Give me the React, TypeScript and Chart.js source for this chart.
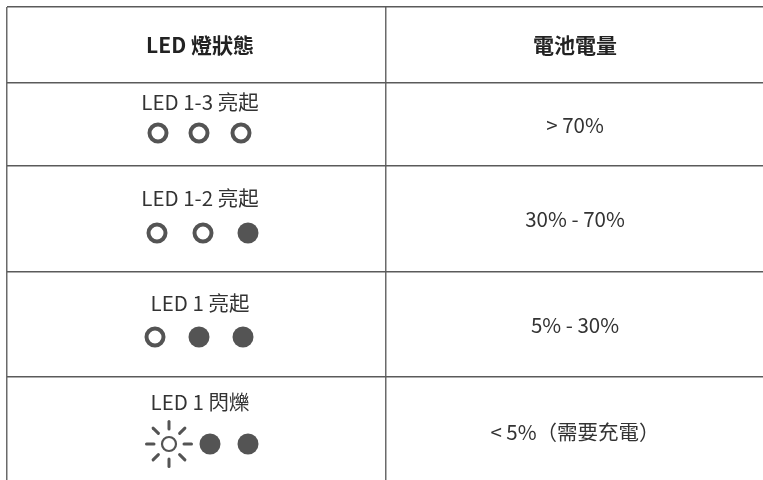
import React, { useEffect, useRef } from "react";
import { Chart, registerables } from "chart.js";

Chart.register(...registerables);

// ---- data ----
const headers = ["LED 燈狀態", "電池電量"];
const ledLabels = ["LED 1-3 亮起", "LED 1-2 亮起", "LED 1 亮起", "LED 1 閃爍"];
const batteryLevels = ["> 70%", "30% - 70%", "5% - 30%", "< 5%（需要充電）"];
const ledStates = [
  ["on", "on", "on"],
  ["on", "on", "off"],
  ["on", "off", "off"],
  ["blink", "off", "off"],
];

// ---- layout (table geometry in scale units) ----
const colLines = [7, 386];
const rowLines = [7, 83, 166, 272, 377];
const col1Center = 200;
const col2Center = 575;
const headerY = 45;
const labelY = [102, 198, 303, 402];
const ledY = [133, 233, 337, 444];
const levelY = [125, 219, 325, 432];
const ledX = [
  [158, 199, 241],
  [157, 203, 248],
  [155, 199, 243],
  [169, 210, 248],
];

const INK = "#545454";
const FONT = "'Noto Sans CJK TC', 'Noto Sans CJK SC', 'Noto Sans', sans-serif";

function makeSun(): HTMLCanvasElement {
  const c = document.createElement("canvas");
  c.width = 50;
  c.height = 50;
  const g = c.getContext("2d")!;
  const cx = 25, cy = 25;
  g.strokeStyle = INK;
  g.lineWidth = 2.2;
  g.beginPath();
  g.arc(cx, cy, 7, 0, Math.PI * 2);
  g.stroke();
  g.lineWidth = 3;
  g.lineCap = "round";
  for (let i = 0; i < 8; i++) {
    const a = (i * Math.PI) / 4;
    g.beginPath();
    g.moveTo(cx + Math.cos(a) * 15, cy + Math.sin(a) * 15);
    g.lineTo(cx + Math.cos(a) * 22.5, cy + Math.sin(a) * 22.5);
    g.stroke();
  }
  return c;
}

export default function App() {
  const ref = useRef<HTMLCanvasElement | null>(null);

  useEffect(() => {
    document.body.style.margin = "0";
    const canvas = ref.current!;
    const onPts: any[] = [];
    const offPts: any[] = [];
    const blinkPts: any[] = [];
    ledStates.forEach((row, r) => {
      row.forEach((s, i) => {
        const p = { x: ledX[r][i], y: ledY[r] };
        if (s === "on") onPts.push(p);
        else if (s === "off") offPts.push(p);
        else blinkPts.push(p);
      });
    });

    const textPlugin = {
      id: "tableText",
      afterDatasetsDraw(chart: any) {
        const { ctx, scales } = chart;
        const xs = scales.x, ys = scales.y;
        ctx.save();
        ctx.textAlign = "center";
        ctx.textBaseline = "middle";
        ctx.fillStyle = "#222222";
        ctx.font = `bold 21px ${FONT}`;
        ctx.fillText(headers[0], xs.getPixelForValue(col1Center), ys.getPixelForValue(headerY));
        ctx.fillText(headers[1], xs.getPixelForValue(col2Center), ys.getPixelForValue(headerY));
        ctx.fillStyle = "#333333";
        ctx.font = `20.5px ${FONT}`;
        ledLabels.forEach((t, i) => {
          ctx.fillText(t, xs.getPixelForValue(col1Center), ys.getPixelForValue(labelY[i]));
        });
        batteryLevels.forEach((t, i) => {
          ctx.fillText(t, xs.getPixelForValue(col2Center), ys.getPixelForValue(levelY[i]));
        });
        ctx.restore();
      },
    };

    const chart = new Chart(canvas, {
      type: "scatter",
      data: {
        datasets: [
          {
            data: onPts,
            pointStyle: "circle",
            pointRadius: 8.5,
            pointBorderWidth: 4,
            pointBorderColor: INK,
            pointBackgroundColor: "rgba(255,255,255,0)",
          },
          {
            data: offPts,
            pointStyle: "circle",
            pointRadius: 10.5,
            pointBorderWidth: 0,
            pointBorderColor: INK,
            pointBackgroundColor: INK,
          },
          {
            data: blinkPts,
            pointStyle: makeSun(),
            pointRadius: 25,
          },
        ],
      } as any,
      options: {
        animation: false,
        responsive: false,
        devicePixelRatio: 1,
        layout: { autoPadding: false, padding: { left: 7, top: 7, right: 0, bottom: 0 } },
        plugins: { legend: { display: false }, tooltip: { enabled: false } },
        events: [],
        scales: {
          x: {
            type: "linear",
            min: 7,
            max: 763,
            afterBuildTicks: (s: any) => {
              s.ticks = colLines.map((v) => ({ value: v }));
            },
            ticks: { display: false },
            grid: { color: "#6a6a6a", lineWidth: 1.5, drawTicks: false },
            border: { display: false },
          },
          y: {
            type: "linear",
            min: 7,
            max: 480,
            reverse: true,
            afterBuildTicks: (s: any) => {
              s.ticks = rowLines.map((v) => ({ value: v }));
            },
            ticks: { display: false },
            grid: { color: "#5a5a5a", lineWidth: 1.5, drawTicks: false },
            border: { display: false },
          },
        },
      } as any,
      plugins: [textPlugin],
    });
    return () => chart.destroy();
  }, []);

  return <canvas ref={ref} width={763} height={480} style={{ display: "block" }} />;
}
